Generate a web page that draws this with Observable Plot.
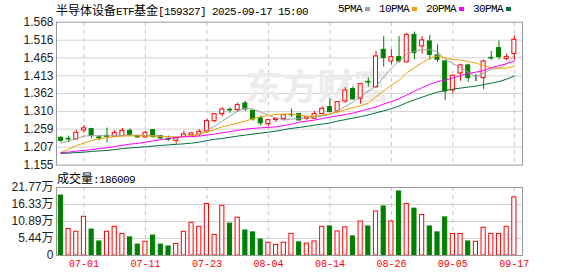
<!DOCTYPE html>
<html><head><meta charset="utf-8">
<script src="https://cdn.jsdelivr.net/npm/d3@7"></script>
<script src="https://cdn.jsdelivr.net/npm/@observablehq/plot@0.6"></script>
<style>
body{margin:0;background:#fff;}
#chart{position:relative;width:578px;height:276px;overflow:hidden;background:#fff;}
#chart svg{position:absolute;left:0;}
.t{position:absolute;white-space:nowrap;color:#000;line-height:12px;height:12px;}
.cjk{font-family:"Noto Sans CJK SC",sans-serif;font-size:12px;}
.mono{font-family:"Liberation Mono",monospace;font-size:11px;letter-spacing:-0.6px;}
#legend{position:absolute;left:338px;top:3px;display:flex;align-items:center;height:12px;}
#legend .sw{display:inline-block;width:5px;height:4px;margin-left:3px;margin-right:9px;}
</style></head><body><div id="chart"></div>
<script>
const dates = ["06-26","06-27","06-30","07-01","07-02","07-03","07-04","07-07","07-08","07-09","07-10","07-11","07-14","07-15","07-16","07-17","07-18","07-21","07-22","07-23","07-24","07-25","07-28","07-29","07-30","07-31","08-01","08-04","08-05","08-06","08-07","08-08","08-11","08-12","08-13","08-14","08-15","08-18","08-19","08-20","08-21","08-22","08-25","08-26","08-27","08-28","08-29","09-01","09-02","09-03","09-04","09-05","09-08","09-09","09-10","09-11","09-12","09-15","09-16","09-17"];
const open = [1.2338,1.2310,1.2292,1.2547,1.2590,1.2350,1.2396,1.2367,1.2388,1.2541,1.2388,1.2350,1.2561,1.2388,1.2310,1.2252,1.2367,1.2408,1.2425,1.2523,1.2821,1.3023,1.3148,1.3139,1.3332,1.3119,1.2899,1.2734,1.2850,1.2879,1.3003,1.3023,1.2888,1.2888,1.3023,1.3226,1.3101,1.3390,1.3746,1.3466,1.3957,1.3795,1.4882,1.4546,1.4671,1.4518,1.5315,1.4980,1.5124,1.4720,1.4546,1.3708,1.4200,1.4431,1.4064,1.4064,1.4651,1.4931,1.4613,1.4757];
const high = [1.2379,1.2388,1.2561,1.2686,1.2599,1.2408,1.2619,1.2547,1.2611,1.2599,1.2402,1.2523,1.2575,1.2408,1.2388,1.2338,1.2532,1.2483,1.2570,1.2879,1.3038,1.3205,1.3205,1.3341,1.3390,1.3139,1.2966,1.2865,1.2893,1.3009,1.3168,1.3038,1.2937,1.3101,1.3234,1.3466,1.3385,1.3795,1.3812,1.3905,1.4064,1.4835,1.5269,1.4882,1.5269,1.5350,1.5393,1.5269,1.5292,1.5026,1.4555,1.4159,1.4468,1.4468,1.4159,1.4584,1.4835,1.5142,1.4757,1.5286];
const low = [1.2206,1.2194,1.2281,1.2474,1.2310,1.2252,1.2194,1.2350,1.2373,1.2396,1.2330,1.2338,1.2321,1.2301,1.2243,1.2156,1.2359,1.2396,1.2367,1.2456,1.2783,1.2945,1.3044,1.3081,1.3101,1.2821,1.2685,1.2656,1.2783,1.2821,1.2928,1.2830,1.2830,1.2879,1.3009,1.3067,1.3044,1.3341,1.3428,1.3312,1.3804,1.3789,1.4382,1.4448,1.4497,1.4506,1.4593,1.4757,1.4584,1.4518,1.3408,1.3610,1.3968,1.3940,1.3968,1.3726,1.4575,1.4593,1.4564,1.4575];
const close = [1.2252,1.2292,1.2483,1.2611,1.2388,1.2321,1.2367,1.2483,1.2541,1.2417,1.2350,1.2483,1.2367,1.2321,1.2281,1.2321,1.2437,1.2466,1.2512,1.2821,1.3023,1.3159,1.3130,1.3283,1.3159,1.2870,1.2755,1.2850,1.2888,1.2994,1.2991,1.2841,1.2928,1.3023,1.3177,1.3081,1.3370,1.3708,1.3448,1.3890,1.3940,1.4691,1.4642,1.4671,1.4546,1.5315,1.4786,1.5153,1.4737,1.4593,1.3679,1.4130,1.4431,1.4064,1.4064,1.4546,1.4633,1.4671,1.4671,1.5171];
const ma5 = [1.2185,1.2243,1.2315,1.2388,1.2402,1.2402,1.2396,1.2396,1.2408,1.2417,1.2417,1.2408,1.2402,1.2388,1.2364,1.2359,1.2373,1.2388,1.2431,1.2561,1.2677,1.2821,1.2966,1.3110,1.3197,1.3168,1.3081,1.2995,1.2908,1.2864,1.2879,1.2893,1.2908,1.2937,1.2966,1.3009,1.3110,1.3246,1.3370,1.3529,1.3688,1.3833,1.4093,1.4353,1.4555,1.4757,1.4844,1.4887,1.4887,1.4830,1.4613,1.4483,1.4367,1.4237,1.4093,1.4208,1.4324,1.4353,1.4468,1.4729];
const ma10 = [1.1911,1.2012,1.2113,1.2185,1.2258,1.2315,1.2344,1.2373,1.2388,1.2393,1.2393,1.2393,1.2388,1.2379,1.2373,1.2359,1.2373,1.2402,1.2445,1.2512,1.2575,1.2656,1.2706,1.2763,1.2821,1.2893,1.2951,1.2980,1.3015,1.3023,1.3023,1.2995,1.2966,1.2957,1.2995,1.3038,1.3081,1.3148,1.3211,1.3269,1.3341,1.3526,1.3697,1.3862,1.3997,1.4223,1.4364,1.4509,1.4636,1.4708,1.4642,1.4604,1.4584,1.4541,1.4497,1.4425,1.4367,1.4353,1.4353,1.4402];
const ma20 = [1.1911,1.1925,1.1954,1.1974,1.1997,1.2026,1.2055,1.2084,1.2122,1.2156,1.2177,1.2214,1.2252,1.2286,1.2315,1.2350,1.2367,1.2373,1.2388,1.2417,1.2445,1.2483,1.2518,1.2552,1.2590,1.2610,1.2628,1.2639,1.2656,1.2691,1.2734,1.2792,1.2821,1.2850,1.2893,1.2937,1.2974,1.3009,1.3052,1.3110,1.3168,1.3226,1.3312,1.3385,1.3471,1.3573,1.3688,1.3789,1.3885,1.3963,1.4006,1.4070,1.4136,1.4200,1.4237,1.4281,1.4367,1.4425,1.4483,1.4561];
const ma30 = [1.1888,1.1896,1.1911,1.1925,1.1945,1.1960,1.1974,1.1997,1.2026,1.2047,1.2061,1.2078,1.2099,1.2119,1.2133,1.2151,1.2165,1.2185,1.2214,1.2258,1.2295,1.2321,1.2353,1.2388,1.2417,1.2445,1.2474,1.2503,1.2532,1.2575,1.2610,1.2639,1.2668,1.2706,1.2734,1.2769,1.2821,1.2864,1.2908,1.2951,1.3000,1.3061,1.3116,1.3182,1.3255,1.3356,1.3434,1.3515,1.3587,1.3659,1.3703,1.3746,1.3775,1.3804,1.3833,1.3876,1.3919,1.3963,1.4035,1.4122];
const volume = [19.2,8.5,7.6,12.4,8.3,4.5,7.6,9.2,6.9,5.8,3.5,4.4,6.4,3.5,2.9,3.7,7.6,10.5,9.2,16.5,6.6,15.9,10.2,12.1,8.0,7.4,5.1,4.1,3.4,4.1,6.9,4.2,3.8,4.5,9.2,9.3,7.7,9.0,6.1,10.9,9.3,14.1,15.7,10.9,20.5,16.5,15.0,13.0,9.3,7.4,12.2,6.9,6.9,4.5,4.4,8.9,6.9,6.9,9.2,18.6];
const volUp = [0,1,1,1,0,0,1,1,1,0,0,1,0,0,0,1,1,1,1,1,1,1,0,1,0,0,0,1,1,1,1,0,1,1,1,0,1,1,0,1,0,1,0,1,0,1,0,1,0,0,0,1,1,0,1,1,1,1,1,1];
const priceTicks = [1.155,1.207,1.259,1.310,1.362,1.413,1.465,1.516,1.568];
const priceTickLabels = ["1.155","1.207","1.259","1.310","1.362","1.413","1.465","1.516","1.568"];
const volTicks = [0,5.44,10.89,16.33,21.77];
const volTickLabels = ["0","5.44万","10.89万","16.33万","21.77万"];
const dateTicks = ["07-01","07-11","07-23","08-04","08-14","08-26","09-05","09-17"];
const maNames = ["5PMA","10PMA","20PMA","30PMA"];
const maColors = ["#a0a0a0","#f0a000","#ff00ff","#00703c"];
const titleParts = [["半导体设备","cjk"],["ETF","mono"],["基金","cjk"],["[159327] 2025-09-17 15:00","mono"]];
const volTitle = [["成交量","cjk"],[":186009","mono"]];

const RED = "#ff0000", GREEN = "#008000";
const rows = dates.map((d, i) => ({
  i, date: d, o: open[i], h: high[i], l: low[i], c: close[i],
  ma5: ma5[i], ma10: ma10[i], ma20: ma20[i], ma30: ma30[i],
  v: volume[i], vu: volUp[i]
}));
const candleColor = d => d.c > d.o ? RED : d.c < d.o ? GREEN : "#000";
const volColor = d => d.vu ? RED : GREEN;
const tickIdx = dateTicks.map(t => dates.indexOf(t));
const xDomain = [-0.573, 60.06];
const W = 578;
const GRID = "#d4d4d4", FRAME = "#999", VGRID = "#c4c4c4";
const baseStyle = {fontFamily: "'Liberation Sans','Noto Sans CJK SC',sans-serif", fontSize: "12px", color: "#222", background: "transparent", overflow: "visible"};
const maKeys = ["ma5","ma10","ma20","ma30"];

const price = Plot.plot({
  width: W, height: 170, marginLeft: 56, marginRight: 56, marginTop: 21.7, marginBottom: 5.4,
  x: {domain: xDomain, axis: null},
  y: {domain: [1.155, 1.568], axis: null},
  color: {type: "identity"},
  style: baseStyle,
  marks: [
    Plot.ruleY(priceTicks.slice(1, -1), {stroke: GRID}),
    Plot.ruleX(tickIdx, {stroke: VGRID, strokeDasharray: "4,4"}),
    Plot.text(["东方财富"], {frameAnchor: "middle", dx: 28, dy: -5, fontSize: 36, fontWeight: "bold", fill: "#ececec", fontFamily: "Noto Sans CJK SC"}),
    Plot.ruleX(rows, {x: "i", y1: "l", y2: "h", stroke: candleColor}),
    Plot.rect(rows, {x1: d => d.i - 0.26, x2: d => d.i + 0.26, y1: "o", y2: "c",
      fill: d => d.c > d.o ? "#fff" : candleColor(d), stroke: candleColor, strokeWidth: 1}),
    ...maKeys.map((k, j) => Plot.line(rows, {x: "i", y: k, stroke: maColors[j], strokeWidth: 1})),
    Plot.frame({stroke: FRAME}),
    Plot.text(priceTicks, {y: d => d, frameAnchor: "left", textAnchor: "end", dx: -3, text: (d, i) => priceTickLabels[i], fill: "#222", fontSize: 12})
  ]
});
price.style.top = "0px";

const vol = Plot.plot({
  width: W, height: 106, marginLeft: 56, marginRight: 56, marginTop: 17, marginBottom: 21,
  x: {domain: xDomain, axis: null},
  y: {domain: [0, 21.77], axis: null},
  color: {type: "identity"},
  style: baseStyle,
  marks: [
    Plot.ruleY(volTicks.slice(1, -1), {stroke: GRID}),
    Plot.ruleX(tickIdx, {stroke: VGRID, strokeDasharray: "4,4"}),
    Plot.rect(rows, {x1: d => d.i - 0.27, x2: d => d.i + 0.27, y1: 0, y2: "v",
      fill: d => d.vu ? "#fff" : GREEN, stroke: volColor, strokeWidth: 1}),
    Plot.frame({stroke: FRAME}),
    Plot.text(volTicks, {y: d => d, frameAnchor: "left", textAnchor: "end", dx: -3, text: (d, i) => volTickLabels[i], fill: "#222", fontSize: 12}),
    Plot.text(tickIdx, {x: d => d, frameAnchor: "bottom", dy: 11, text: (d, i) => dateTicks[i], fill: RED, fontSize: 10, fontFamily: "Liberation Mono"})
  ]
});
vol.style.top = "170px";

const chart = document.getElementById("chart");
chart.appendChild(price);
chart.appendChild(vol);

function addText(parts, left, top) {
  const div = document.createElement("div");
  div.className = "t";
  div.style.left = left + "px";
  div.style.top = top + "px";
  for (const [txt, cls] of parts) {
    const s = document.createElement("span");
    s.className = cls;
    s.textContent = txt;
    div.appendChild(s);
  }
  chart.appendChild(div);
}
addText(titleParts, 56, 4);
addText(volTitle, 57, 172);

const legend = document.createElement("div");
legend.id = "legend";
maNames.forEach((n, j) => {
  const s = document.createElement("span");
  s.className = "mono";
  s.textContent = n;
  legend.appendChild(s);
  const sw = document.createElement("span");
  sw.className = "sw";
  sw.style.background = maColors[j];
  legend.appendChild(sw);
});
chart.appendChild(legend);
</script></body></html>
